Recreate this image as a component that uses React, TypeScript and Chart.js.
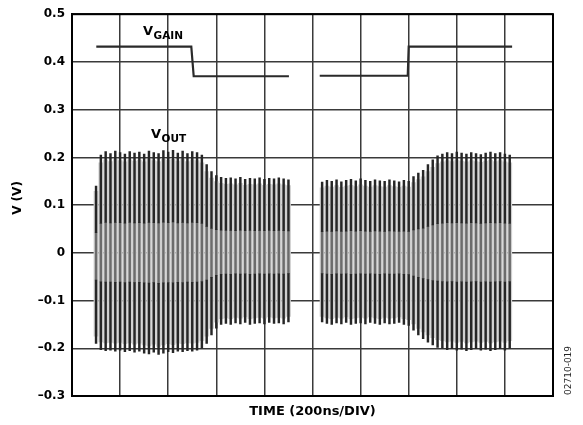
import React, { useEffect, useRef } from 'react';
import { Chart, registerables } from 'chart.js';

Chart.register(...registerables);

// ---- Data (time in ns, value in V) ----
const vOutTime1 = [100, 120, 140, 160, 180, 200, 220, 240, 260, 280, 300, 320, 340, 360, 380, 400, 420, 440, 460, 480, 500, 520, 540, 560, 580, 600, 620, 640, 660, 680, 700, 720, 740, 760, 780, 800, 820, 840, 860, 880, 900];
const vOutHigh1 = [0.14, 0.205, 0.212, 0.208, 0.213, 0.21, 0.207, 0.212, 0.209, 0.211, 0.207, 0.213, 0.21, 0.208, 0.214, 0.211, 0.215, 0.209, 0.213, 0.208, 0.212, 0.21, 0.205, 0.185, 0.17, 0.162, 0.158, 0.156, 0.157, 0.155, 0.158, 0.154, 0.156, 0.155, 0.157, 0.154, 0.156, 0.155, 0.157, 0.155, 0.153];
const vOutLow1 = [-0.19, -0.203, -0.205, -0.204, -0.206, -0.204, -0.207, -0.205, -0.208, -0.206, -0.21, -0.212, -0.208, -0.213, -0.21, -0.207, -0.209, -0.206, -0.207, -0.205, -0.206, -0.204, -0.2, -0.19, -0.172, -0.158, -0.15, -0.148, -0.15, -0.147, -0.149, -0.146, -0.15, -0.148, -0.147, -0.149, -0.146, -0.148, -0.147, -0.149, -0.145];

const vOutTime2 = [1040, 1060, 1080, 1100, 1120, 1140, 1160, 1180, 1200, 1220, 1240, 1260, 1280, 1300, 1320, 1340, 1360, 1380, 1400, 1420, 1440, 1460, 1480, 1500, 1520, 1540, 1560, 1580, 1600, 1620, 1640, 1660, 1680, 1700, 1720, 1740, 1760, 1780, 1800, 1820];
const vOutHigh2 = [0.148, 0.152, 0.15, 0.153, 0.149, 0.152, 0.154, 0.151, 0.155, 0.152, 0.15, 0.153, 0.151, 0.15, 0.153, 0.151, 0.149, 0.152, 0.15, 0.16, 0.167, 0.173, 0.185, 0.195, 0.203, 0.207, 0.21, 0.208, 0.211, 0.209, 0.207, 0.21, 0.208, 0.206, 0.209, 0.211, 0.208, 0.21, 0.207, 0.205];
const vOutLow2 = [-0.145, -0.148, -0.15, -0.147, -0.149, -0.146, -0.15, -0.148, -0.147, -0.149, -0.146, -0.148, -0.15, -0.147, -0.149, -0.148, -0.146, -0.15, -0.152, -0.162, -0.172, -0.18, -0.187, -0.193, -0.198, -0.2, -0.203, -0.201, -0.204, -0.202, -0.205, -0.203, -0.201, -0.204, -0.202, -0.205, -0.203, -0.201, -0.204, -0.2];

const vGainTime = [101, 496, 506, 902, 966, 1030, 1396, 1400, 1830];
const vGainValue = [0.432, 0.432, 0.37, 0.37, null, 0.371, 0.371, 0.432, 0.432];

const yTicks = [-0.3, -0.2, -0.1, 0, 0.1, 0.2, 0.3, 0.4, 0.5];
const xDivisionNs = 200;
const xMaxNs = 2000;

const xTitle = 'TIME (200ns/DIV)';
const yTitle = 'V (V)';
const figureId = '02710-019';

const FONT = '"DejaVu Sans", Arial, sans-serif';

function fmtTick(v: number): string {
  const r = Math.round(v * 10) / 10;
  if (Math.abs(r) < 1e-9) return '0';
  const s = Math.abs(r).toFixed(1);
  return r < 0 ? '\u2013' + s : s;
}

const textPlugin = {
  id: 'refText',
  afterDraw(chart: any) {
    const ctx = chart.ctx as CanvasRenderingContext2D;
    const area = chart.chartArea;
    ctx.save();
    ctx.fillStyle = '#000';
    ctx.textAlign = 'left';
    ctx.textBaseline = 'alphabetic';

    // V_GAIN label
    ctx.font = `bold 13px ${FONT}`;
    ctx.fillText('V', 143, 35);
    let w = ctx.measureText('V').width;
    ctx.font = `bold 10.5px ${FONT}`;
    ctx.fillText('GAIN', 143 + w + 0.5, 38.5);

    // V_OUT label
    ctx.font = `bold 13px ${FONT}`;
    ctx.fillText('V', 151, 138);
    w = ctx.measureText('V').width;
    ctx.font = `bold 10.5px ${FONT}`;
    ctx.fillText('OUT', 151 + w + 0.5, 141.5);

    // x title
    ctx.textAlign = 'center';
    ctx.textBaseline = 'middle';
    ctx.font = `bold 13px ${FONT}`;
    ctx.fillText(xTitle, (area.left + area.right) / 2, 412);

    // y title
    ctx.save();
    ctx.translate(18, 198);
    ctx.rotate(-Math.PI / 2);
    ctx.font = `bold 12px ${FONT}`;
    ctx.fillText(yTitle, 0, 0);
    ctx.restore();

    // figure id
    ctx.save();
    ctx.translate(569, area.bottom - 1);
    ctx.rotate(-Math.PI / 2);
    ctx.textAlign = 'left';
    ctx.font = `9px ${FONT}`;
    ctx.fillStyle = '#222';
    ctx.fillText(figureId, 0, 0);
    ctx.restore();

    ctx.restore();
  },
};

export default function App() {
  const canvasRef = useRef<HTMLCanvasElement | null>(null);

  useEffect(() => {
    if (!canvasRef.current) return;

    const times = [...vOutTime1, ...vOutTime2];
    const highs = [...vOutHigh1, ...vOutHigh2];
    const lows = [...vOutLow1, ...vOutLow2];
    const split = 0.3;

    const bgData = times.map((t, i) => ({ x: t, y: [lows[i] * 0.92, highs[i] * 0.92] }));
    const topData = times.map((t, i) => ({ x: t, y: [highs[i] * split, highs[i]] }));
    const botData = times.map((t, i) => ({ x: t, y: [lows[i], lows[i] * split] }));
    const midData = times.map((t, i) => ({ x: t, y: [lows[i] * split, highs[i] * split] }));
    const gainData = vGainTime.map((t, i) => ({ x: t, y: vGainValue[i] }));

    const chart = new Chart(canvasRef.current, {
      type: 'bar',
      data: {
        datasets: [
          {
            type: 'bar',
            label: 'VOUT shade',
            data: bgData as any,
            backgroundColor: '#cfcfcf',
            barThickness: 4.2,
            grouped: false,
            borderWidth: 0,
            order: 5,
          },
          {
            type: 'bar',
            label: 'VOUT mid',
            data: midData as any,
            backgroundColor: '#6c6c6c',
            barThickness: 1.8,
            grouped: false,
            borderWidth: 0,
            order: 4,
          },
          {
            type: 'bar',
            label: 'VOUT top',
            data: topData as any,
            backgroundColor: '#262626',
            barThickness: 1.8,
            grouped: false,
            borderWidth: 0,
            order: 3,
          },
          {
            type: 'bar',
            label: 'VOUT bottom',
            data: botData as any,
            backgroundColor: '#262626',
            barThickness: 1.8,
            grouped: false,
            borderWidth: 0,
            order: 3,
          },
          {
            type: 'line',
            label: 'VGAIN',
            data: gainData as any,
            borderColor: '#2a2a2a',
            borderWidth: 2.2,
            pointRadius: 0,
            tension: 0,
            spanGaps: false,
            order: 1,
          },
        ],
      },
      options: {
        animation: false,
        responsive: false,
        events: [],
        layout: { padding: { top: 12, right: 30, left: 0, bottom: 0 } },
        plugins: {
          legend: { display: false },
          tooltip: { enabled: false },
          title: { display: false },
        },
        scales: {
          x: {
            type: 'linear',
            min: 0,
            max: xMaxNs,
            offset: false,
            z: 1,
            afterFit: (s: any) => {
              s.height = 29;
            },
            grid: {
              offset: false,
              color: '#3a3a3a',
              lineWidth: 1.5,
              drawTicks: false,
            },
            border: { display: true, color: '#000', width: 2 },
            ticks: { display: false, stepSize: xDivisionNs },
          },
          y: {
            type: 'linear',
            min: yTicks[0],
            max: yTicks[yTicks.length - 1],
            z: 1,
            afterFit: (s: any) => {
              s.width = 72;
            },
            afterBuildTicks: (s: any) => {
              s.ticks = yTicks.map((v) => ({ value: v }));
            },
            grid: {
              color: '#3a3a3a',
              lineWidth: 1.5,
              drawTicks: false,
            },
            border: { display: true, color: '#000', width: 2 },
            ticks: {
              padding: 7,
              color: '#000',
              font: { family: FONT, size: 12, weight: 'bold' },
              callback: (v: any) => fmtTick(Number(v)),
            },
          },
        },
      },
      plugins: [
        textPlugin,
        {
          id: 'frame',
          afterDraw(chart: any) {
            const { ctx, chartArea: a } = chart;
            ctx.save();
            ctx.strokeStyle = '#000';
            ctx.lineWidth = 2;
            ctx.strokeRect(a.left, a.top, a.right - a.left, a.bottom - a.top);
            ctx.restore();
          },
        },
      ],
    } as any);

    return () => chart.destroy();
  }, []);

  return (
    <div style={{ position: 'absolute', left: 0, top: 0, width: 583, height: 425, background: '#fff' }}>
      <canvas ref={canvasRef} width={583} height={425} />
    </div>
  );
}
